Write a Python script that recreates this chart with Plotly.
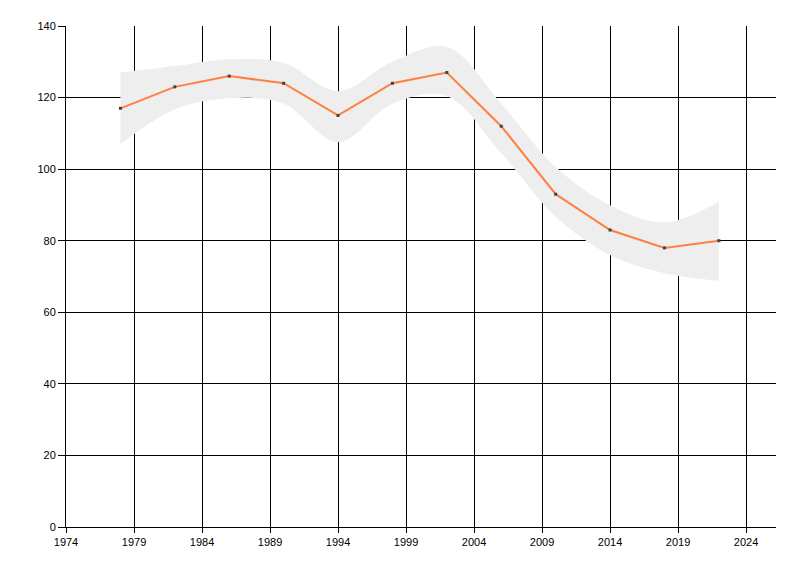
import plotly.graph_objects as go

# values
years = [1978, 1982, 1986, 1990, 1994, 1998, 2002, 2006, 2010, 2014, 2018, 2022]
values = [117, 123, 126, 124, 115, 124, 127, 112, 93, 83, 78, 80]
band_upper = [127, 128.8, 130.7, 129.7, 121.8, 130, 134.2, 118.3, 100.6, 89.9, 85.1, 90.9]
band_lower = [107, 116.7, 119.8, 118.3, 107.6, 118.3, 120.4, 104.5, 86.7, 76, 70.9, 68.8]
x_ticks = [1974, 1979, 1984, 1989, 1994, 1999, 2004, 2009, 2014, 2019, 2024]
y_ticks = [0, 20, 40, 60, 80, 100, 120, 140]

BAND = "#eeeeee"
LINE = "#ff7f3f"

fig = go.Figure()

fig.add_trace(
    go.Scatter(
        x=years, y=band_lower, mode="lines",
        line=dict(color=BAND, width=0, shape="spline", smoothing=1.0),
        hoverinfo="skip", showlegend=False,
    )
)
fig.add_trace(
    go.Scatter(
        x=years, y=band_upper, mode="lines",
        line=dict(color=BAND, width=0, shape="spline", smoothing=1.0),
        fill="tonexty", fillcolor=BAND,
        hoverinfo="skip", showlegend=False,
    )
)
fig.add_trace(
    go.Scatter(
        x=years, y=values, mode="lines+markers",
        line=dict(color=LINE, width=2),
        marker=dict(color="#444444", size=3, symbol="square"),
        showlegend=False,
    )
)

axis_font = dict(family="Liberation Sans, Arial, sans-serif", size=11, color="#000000")

# the page body has an 8px margin, so the plot margins are shifted to match
fig.update_layout(
    width=800,
    height=576,
    margin=dict(l=58, r=32, t=18, b=57),
    paper_bgcolor="white",
    plot_bgcolor="white",
    font=axis_font,
    xaxis=dict(
        range=[1974, 2026.2],
        tickmode="array", tickvals=x_ticks, ticktext=[str(t) for t in x_ticks],
        showgrid=True, gridcolor="#000000", gridwidth=1,
        showline=True, linecolor="#000000", linewidth=1,
        ticks="outside", ticklen=5, tickcolor="#000000",
        zeroline=False, tickfont=axis_font,
    ),
    yaxis=dict(
        range=[0, 140],
        tickmode="array", tickvals=y_ticks, ticktext=[str(t) for t in y_ticks],
        showgrid=True, gridcolor="#000000", gridwidth=1,
        showline=True, linecolor="#000000", linewidth=1,
        ticks="outside", ticklen=7, tickcolor="#000000",
        zeroline=False, tickfont=axis_font,
    ),
)

fig.write_html("out.html")
